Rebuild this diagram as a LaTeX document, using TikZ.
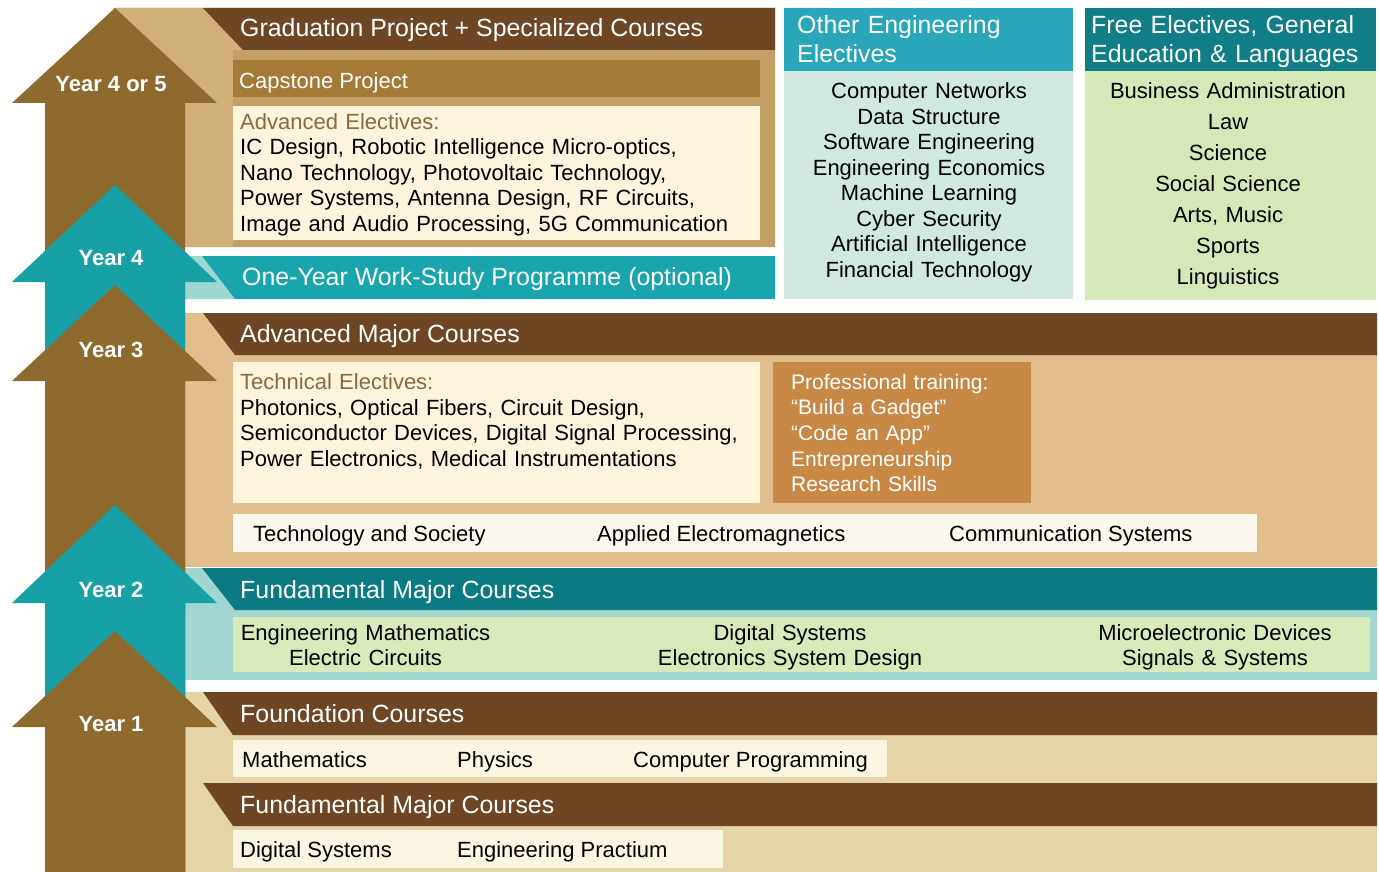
\documentclass[tikz,border=0pt]{standalone}
\usepackage{fontspec}
\setmainfont{Liberation Sans}
\definecolor{arrbrown}{HTML}{8E6A2E}
\definecolor{arrteal}{HTML}{17A1A7}
\definecolor{hdrbrown}{HTML}{6E4623}
\definecolor{tanA}{HTML}{C4A067}
\definecolor{tanFold}{HTML}{D0AF78}
\definecolor{capbrown}{HTML}{A57A37}
\definecolor{cream}{HTML}{FDF4DE}
\definecolor{tanB}{HTML}{E1BE8C}
\definecolor{profbox}{HTML}{C88946}
\definecolor{rowwhite}{HTML}{FCF8EF}
\definecolor{tealbar}{HTML}{19A4AE}
\definecolor{tealfold}{HTML}{9ED6D0}
\definecolor{tealdark}{HTML}{0B7A82}
\definecolor{tealbg}{HTML}{A5D7D2}
\definecolor{greenbox}{HTML}{D8E9BA}
\definecolor{beige}{HTML}{E4D4A6}
\definecolor{creamB}{HTML}{FBF5E4}
\definecolor{otherhdr}{HTML}{29A6B9}
\definecolor{otherbody}{HTML}{D0E8E0}
\definecolor{freehdr}{HTML}{107D87}
\definecolor{freebody}{HTML}{D6E8B7}
\definecolor{labelbrown}{HTML}{8A6A3C}
\begin{document}
\begin{tikzpicture}[x=1pt,y=-1pt,
  panel/.style={inner sep=0pt, outer sep=0pt, anchor=north west, draw=none},
  hdrtext/.style={text=white, font=\fontsize{24.9}{29}\selectfont, anchor=base west, inner sep=0pt},
  bodytext/.style={text=black, font=\fontsize{22}{25.5}\selectfont, anchor=base west, inner sep=0pt},
  ctrtext/.style={bodytext, anchor=base},
  yeartext/.style={text=white, font=\fontsize{22}{25}\selectfont\bfseries, anchor=base, inner sep=0pt}
]
\useasboundingbox (0,0) rectangle (1379,872);
\fill[white] (0,0) rectangle (1379,872);

% ---------- Year 4 or 5 section ----------
\fill[tanA] (115,8) -- (775,8) -- (775,247) -- (185,247) -- (185,103) -- cycle;
\fill[tanFold] (115,8) -- (203,8) -- (243,50) -- (233,50) -- (233,247) -- (185,247) -- (185,103) -- cycle;
\fill[hdrbrown] (203,8) -- (775,8) -- (775,50) -- (243,50) -- cycle;
\node[hdrtext] (gradhdr) at (240,37) {Graduation Project + Specialized Courses};
\node[panel, fill=capbrown, minimum width=527pt, minimum height=37pt] (capbar) at (233,60) {};
\node[bodytext, text=white] (captxt) at (239,88.5) {Capstone Project};
\node[panel, fill=cream, minimum width=527pt, minimum height=134pt] (advbox) at (233,106) {};
\node[bodytext, text width=520pt, align=left] (advtxt) at (240,129.5)
  {\textcolor{labelbrown}{Advanced Electives:}\\
   IC Design, Robotic Intelligence Micro-optics,\\
   Nano Technology, Photovoltaic Technology,\\
   Power Systems, Antenna Design, RF Circuits,\\
   Image and Audio Processing, 5G Communication};

% ---------- Work-study bar ----------
\fill[tealfold] (185,256) -- (202,256) -- (235,299) -- (185,299) -- cycle;
\fill[tealbar] (202,256) -- (775,256) -- (775,299) -- (235,299) -- cycle;
\node[hdrtext] (worktxt) at (242,285) {One-Year Work-Study Programme (optional)};

% ---------- Other Engineering Electives ----------
\node[panel, fill=otherhdr, minimum width=289pt, minimum height=63pt] (othhdr) at (784,8) {};
\node[panel, fill=otherbody, minimum width=289pt, minimum height=228pt] (othbody) at (784,71) {};
\node[hdrtext, text width=280pt, align=left] (othtitle) at (797,34) {Other Engineering\\Electives};
\node[ctrtext, text width=285pt, align=center] (othlist) at (929,99)
  {Computer Networks\\Data Structure\\Software Engineering\\Engineering Economics\\
   Machine Learning\\Cyber Security\\Artificial Intelligence\\Financial Technology};

% ---------- Free Electives ----------
\node[panel, fill=freehdr, minimum width=291pt, minimum height=63pt] (freehdr) at (1085,8) {};
\node[panel, fill=freebody, minimum width=291pt, minimum height=229pt] (freebody) at (1085,71) {};
\node[hdrtext, text width=288pt, align=left] (freetitle) at (1091,34) {Free Electives, General\\Education \& Languages};
\node[ctrtext, text width=285pt, align=center, font=\fontsize{22}{31}\selectfont] (freelist) at (1228,99)
  {Business Administration\\Law\\Science\\Social Science\\Arts, Music\\Sports\\Linguistics};

% ---------- Year 3 section ----------
\fill[tanB] (185,313) -- (1377,313) -- (1377,567) -- (185,567) -- cycle;
\fill[hdrbrown] (203,313) -- (1377,313) -- (1377,355) -- (235,355) -- cycle;
\node[hdrtext] (advmaj) at (240,342) {Advanced Major Courses};
\node[panel, fill=cream, minimum width=527pt, minimum height=141pt] (techbox) at (233,362) {};
\node[bodytext, text width=520pt, align=left] (techtxt) at (240,389.5)
  {\textcolor{labelbrown}{Technical Electives:}\\
   Photonics, Optical Fibers, Circuit Design,\\
   Semiconductor Devices, Digital Signal Processing,\\
   Power Electronics, Medical Instrumentations};
\node[panel, fill=profbox, minimum width=258pt, minimum height=141pt] (profbx) at (773,362) {};
\node[bodytext, text=white, text width=250pt, align=left, font=\fontsize{21}{25.7}\selectfont] (proftxt) at (791,389)
  {Professional training:\\“Build a Gadget”\\“Code an App”\\Entrepreneurship\\Research Skills};
\node[panel, fill=rowwhite, minimum width=1024pt, minimum height=38pt] (row3) at (233,514) {};
\node[bodytext] (techsoc) at (253,541) {Technology and Society};
\node[bodytext] (appem) at (597,541) {Applied Electromagnetics};
\node[bodytext] (commsys) at (949,541) {Communication Systems};

% ---------- Year 2 section ----------
\fill[tealbg] (185,568) -- (1377,568) -- (1377,680) -- (185,680) -- cycle;
\fill[tealfold] (185,568) -- (202,568) -- (235,610) -- (185,610) -- cycle;
\fill[tealdark] (202,568) -- (1377,568) -- (1377,610) -- (235,610) -- cycle;
\node[hdrtext] (fund2) at (240,598) {Fundamental Major Courses};
\node[panel, fill=greenbox, minimum width=1137pt, minimum height=55pt] (row2) at (233,617) {};
\node[ctrtext, text width=300pt, align=center] (col2a) at (365.5,640) {Engineering Mathematics\\Electric Circuits};
\node[ctrtext, text width=300pt, align=center] (col2b) at (790,640) {Digital Systems\\Electronics System Design};
\node[ctrtext, text width=300pt, align=center] (col2c) at (1215,640) {Microelectronic Devices\\Signals \& Systems};

% ---------- Year 1 section ----------
\fill[beige] (185,692) -- (1377,692) -- (1377,872) -- (185,872) -- cycle;
\fill[hdrbrown] (203,692) -- (1377,692) -- (1377,735) -- (233,735) -- cycle;
\node[hdrtext] (foundhdr) at (240,722) {Foundation Courses};
\node[panel, fill=creamB, minimum width=654pt, minimum height=37pt] (row1a) at (233,740) {};
\node[bodytext] (maths) at (242,767) {Mathematics};
\node[bodytext] (phys) at (457,767) {Physics};
\node[bodytext] (compprog) at (633,767) {Computer Programming};
\fill[hdrbrown] (203,783) -- (1377,783) -- (1377,826) -- (233,826) -- cycle;
\node[hdrtext] (fund1) at (240,813) {Fundamental Major Courses};
\node[panel, fill=creamB, minimum width=490pt, minimum height=38pt] (row1b) at (233,830) {};
\node[bodytext] (digsys1) at (240,857) {Digital Systems};
\node[bodytext] (engprac) at (457,857) {Engineering Practium};

% ---------- Year arrows ----------
\fill[arrbrown] (115,8) -- (217,103) -- (185,103) -- (185,872) -- (45,872) -- (45,103) -- (12,103) -- cycle;
\fill[arrteal] (115,185) -- (217,282) -- (185,282) -- (185,872) -- (45,872) -- (45,282) -- (12,282) -- cycle;
\fill[arrbrown] (115,285) -- (217,381) -- (185,381) -- (185,872) -- (45,872) -- (45,381) -- (12,381) -- cycle;
\fill[arrteal] (115,505) -- (217,603) -- (185,603) -- (185,872) -- (45,872) -- (45,603) -- (12,603) -- cycle;
\fill[arrbrown] (115,631) -- (217,727) -- (185,727) -- (185,872) -- (45,872) -- (45,727) -- (12,727) -- cycle;
\node[yeartext] (y45) at (111,92) {Year 4 or 5};
\node[yeartext] (y4) at (111,265) {Year 4};
\node[yeartext] (y3) at (111,357.5) {Year 3};
\node[yeartext] (y2) at (111,597) {Year 2};
\node[yeartext] (y1) at (111,731.5) {Year 1};
\end{tikzpicture}
\end{document}
